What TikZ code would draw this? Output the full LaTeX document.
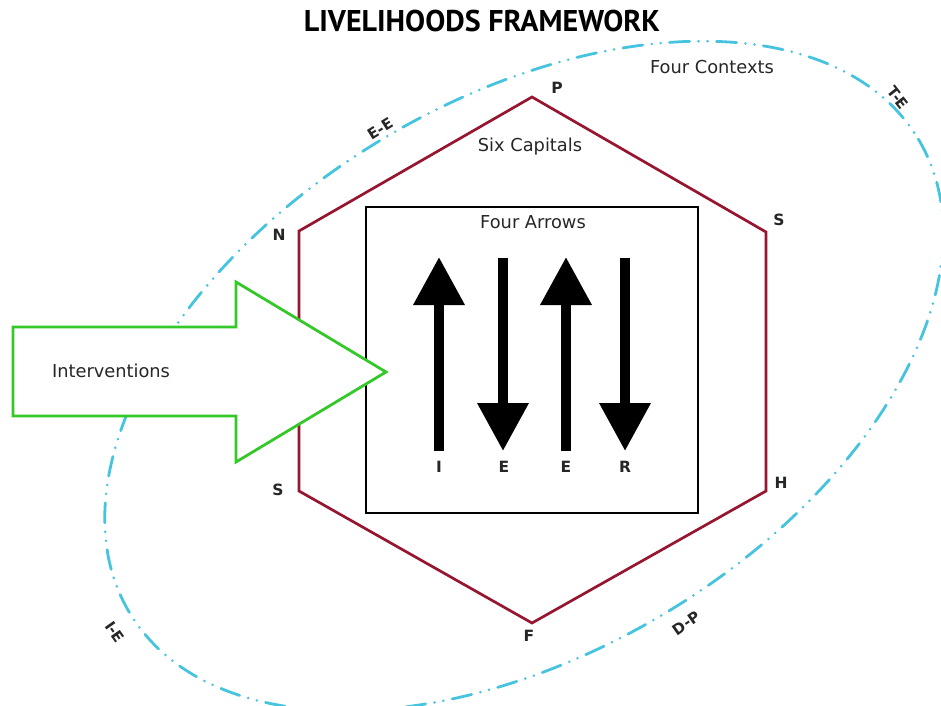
\documentclass[tikz,border=0pt]{standalone}
\usepackage{fontspec}
\setmainfont{DejaVu Sans}
\newfontfamily\titlefont{PT Sans}
\usepackage{tikz}
\usetikzlibrary{arrows.meta,positioning,calc}
\definecolor{ctxcyan}{RGB}{70,195,222}
\definecolor{capred}{RGB}{150,22,48}
\definecolor{intgreen}{RGB}{52,200,40}

\begin{document}
\begin{tikzpicture}[x=1pt,y=-1pt,
				every node/.style={inner sep=0pt, text=black!85},
				lbl/.style={font=\fontsize{17.8}{18}\selectfont},
				corner/.style={font=\bfseries\fontsize{15.5}{16}\selectfont},
				ctx/.style={font=\bfseries\fontsize{15}{15}\selectfont},
				context/.style={draw=ctxcyan, line width=2.8pt, line cap=round,
					dash pattern=on 20pt off 9pt on 0pt off 9pt on 0pt off 9pt},
				bigarrow/.style={line width=10pt, -{Triangle[width=49pt,length=48pt]}}]
			\useasboundingbox (0,0) rectangle (941,705);
			% four contexts
			\draw[context] (524,376) ellipse [x radius=460, y radius=276, rotate=31];
			\node[lbl] (contexts) at (712,67) {Four Contexts};
			\node[ctx, rotate=32] (ee) at (380,129) {E-E};
			\node[ctx, rotate=-52] (te) at (898,98) {T-E};
			\node[ctx, rotate=-55] (ie) at (115,632) {I-E};
			\node[ctx, rotate=35] (dp) at (686,623) {D-P};
			% six capitals
			\coordinate (p) at (532,97);
			\coordinate (s1) at (766,232);
			\coordinate (h) at (766,491);
			\coordinate (f) at (532,623);
			\coordinate (s2) at (299,491);
			\coordinate (n) at (299,231);
			\draw[capred, line width=2.7pt, line join=miter] (p) -- (s1) -- (h) -- (f) -- (s2) -- (n) -- cycle;
			\node[lbl] (capitals) at (530,147) {Six Capitals};
			\node[corner] (lp) at (557,88) {P};
			\node[corner] (ls1) at (779,220) {S};
			\node[corner] (lh) at (781,483) {H};
			\node[corner] (lf) at (529,636) {F};
			\node[corner] (ls2) at (278,490) {S};
			\node[corner] (ln) at (279,235) {N};
			% four arrows
			\draw[black, line width=2pt] (366,207) rectangle (698,513);
			\node[lbl] (arrows) at (533,222) {Four Arrows};
			\node[corner] (ai) at (439,467) {I};
			\node[corner] (ae1) at (504,467) {E};
			\node[corner] (ae2) at (566,467) {E};
			\node[corner] (ar) at (625,467) {R};
			\draw[bigarrow] (439,451) -- (439,257);
			\draw[bigarrow] (503,258) -- (503,451);
			\draw[bigarrow] (566,451) -- (566,257);
			\draw[bigarrow] (625,258) -- (625,451);
			% interventions
			\draw[intgreen, fill=white, line width=2.8pt, line join=miter]
				(13,327) -- (236,327) -- (236,282) -- (386,372) -- (236,462) -- (236,416) -- (13,416) -- cycle;
			\node[lbl] (interventions) at (111,371) {Interventions};
			% title
			\node[font=\titlefont\bfseries\fontsize{30}{30}\selectfont, text=black] (title) at (482,21) {LIVELIHOODS FRAMEWORK};
		\end{tikzpicture}
\end{document}
